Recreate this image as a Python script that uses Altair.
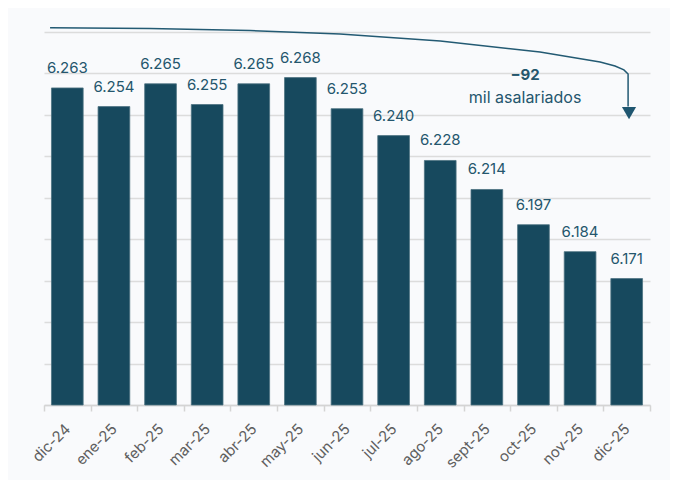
import altair as alt
import pandas as pd

months = ["dic-24", "ene-25", "feb-25", "mar-25", "abr-25", "may-25", "jun-25",
          "jul-25", "ago-25", "sept-25", "oct-25", "nov-25", "dic-25"]
values = [6.263, 6.254, 6.265, 6.255, 6.265, 6.268, 6.253,
          6.240, 6.228, 6.214, 6.197, 6.184, 6.171]
labels = ["6.263", "6.254", "6.265", "6.255", "6.265", "6.268", "6.253",
          "6.240", "6.228", "6.214", "6.197", "6.184", "6.171"]
grid_values = [6.11, 6.13, 6.15, 6.17, 6.19, 6.21, 6.23, 6.25, 6.27, 6.29]
y_base = 6.11

# annotation path, in (month index, value) units
arrow_x = [0.13, 2.27, 4.42, 6.35, 8.50, 10.64, 11.93, 12.25, 12.44, 12.53, 12.53]
arrow_y = [6.2921, 6.2917, 6.2907, 6.2890, 6.2857, 6.2803, 6.2755, 6.2736, 6.2717, 6.2697, 6.2540]
head_x = [12.55]
head_y = [6.2509]
note_x = [10.32, 10.32]
note_y = [6.2693, 6.2582]
note_text = ["−92", "mil asalariados"]

df = pd.DataFrame({"mes": months, "valor": values, "label": labels})
path = pd.DataFrame({"px": arrow_x, "py": arrow_y, "o": list(range(len(arrow_x)))})
head = pd.DataFrame({"px": head_x, "py": head_y})
note_bold = pd.DataFrame({"px": note_x[:1], "py": note_y[:1], "t": note_text[:1]})
note_norm = pd.DataFrame({"px": note_x[1:], "py": note_y[1:], "t": note_text[1:]})

FONT = "Inter"
BAR = "#17495e"
TXT = "#24566d"

yscale = alt.Scale(domain=[6.11, 6.29], zero=False, nice=False)
xq = alt.X("px:Q", scale=alt.Scale(domain=[0, 13], nice=False, zero=False), axis=None)

xband = alt.X("mes:N", sort=months, title=None,
              scale=alt.Scale(paddingInner=0, paddingOuter=0),
              axis=alt.Axis(labelAngle=-45, labelAlign="right", labelBaseline="middle",
                            labelPadding=15, labelFontSize=15, labelFont=FONT,
                            labelColor="#5f5f5f", tickBand="extent", tickSize=6,
                            tickColor="#d4d4d4", domainColor="#d4d4d4", tickWidth=1.5,
                            domainWidth=1.5, grid=False))

bars = alt.Chart(df).mark_bar(color=BAR, width=alt.RelativeBandSize(0.68),
                              stroke="#4d7282", strokeWidth=0.8).encode(
    x=xband,
    y=alt.Y("valor:Q", scale=yscale, title=None,
            axis=alt.Axis(values=grid_values, labels=False, ticks=False, domain=False,
                          gridColor="#dcdcdc", gridWidth=1.5)),
    y2=alt.datum(y_base),
)

texts = alt.Chart(df).mark_text(font=FONT, fontSize=15, color=TXT, baseline="alphabetic",
                                dy=-15).encode(
    x=alt.X("mes:N", sort=months),
    y=alt.Y("valor:Q", scale=yscale),
    text="label:N",
)

line = alt.Chart(path).mark_line(color="#235a73", strokeWidth=1.5).encode(
    x=xq, y=alt.Y("py:Q", scale=yscale), order="o:Q")

tri = alt.Chart(head).mark_point(shape="triangle-down", size=200, filled=True,
                                 color="#1f5670", opacity=1).encode(
    x=xq, y=alt.Y("py:Q", scale=yscale))

nb = alt.Chart(note_bold).mark_text(font=FONT, fontSize=15, fontWeight="bold", color=TXT,
                                    baseline="middle").encode(
    x=xq, y=alt.Y("py:Q", scale=yscale), text="t:N")
nn = alt.Chart(note_norm).mark_text(font=FONT, fontSize=16, color=TXT,
                                    baseline="middle").encode(
    x=xq, y=alt.Y("py:Q", scale=yscale), text="t:N")

base = alt.layer(bars, texts)
annot = alt.layer(line, tri, nb, nn)

chart = alt.layer(base, annot).resolve_scale(x="independent").properties(
    width=606, height=373,
    background="#f9fafc",
    padding={"left": 36, "top": 24, "right": 20, "bottom": 75},
    autosize=alt.AutoSizeParams(type="none"),
).configure_view(stroke=None)

chart.save("out.html", embed_options={"renderer": "svg", "actions": False})
